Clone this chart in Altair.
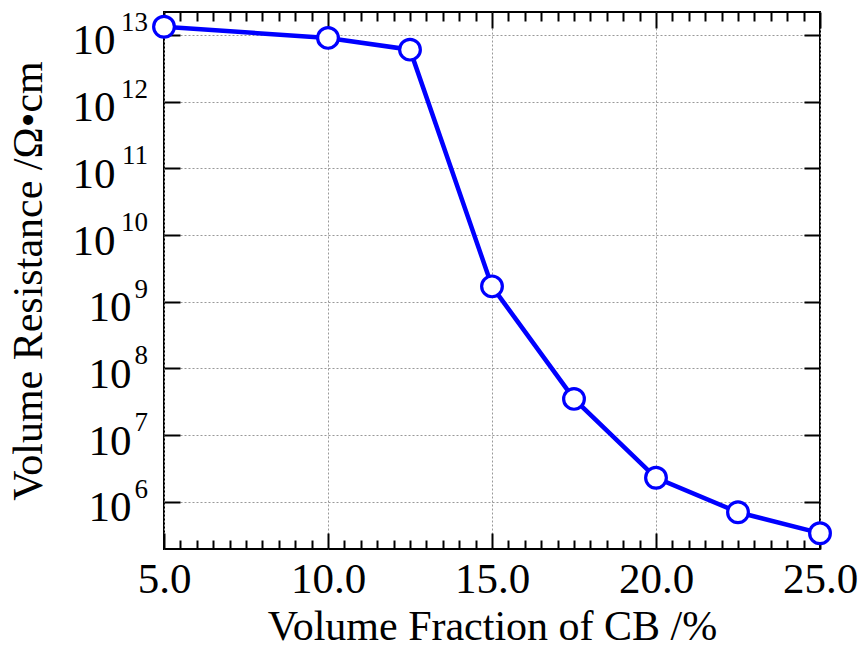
import altair as alt
import pandas as pd

# ---- data ----
cb_fraction = [5.0, 10.0, 12.5, 15.0, 17.5, 20.0, 22.5, 25.0]
resistance = [1.32e13, 9.0e12, 6.0e12, 1.7e9, 3.5e7, 2.3e6, 7.0e5, 3.4e5]

x_major = [5, 10, 15, 20, 25]
x_minor = [5 + 0.5 * i for i in range(41)]
decades = [1e6, 1e7, 1e8, 1e9, 1e10, 1e11, 1e12, 1e13]
exponents = ["6", "7", "8", "9", "10", "11", "12", "13"]

df = pd.DataFrame({"cb": cb_fraction, "res": resistance})
exp_df = pd.DataFrame({"val": decades, "exp": exponents})

W, H = 656, 537
BLUE = "#0000ff"
FONT = "Liberation Serif"

xscale = alt.Scale(domain=[5, 25], nice=False, zero=False)
yscale = alt.Scale(type="log", domain=[1.97e5, 2.2e13], nice=False)

tick_cond = {"condition": {"test": "datum.value % 5 === 0", "value": 16}, "value": 9}

# Layer A: line with label axes (bottom / left)
x_lab = alt.Axis(orient="bottom", values=x_major, format=".1f",
                 title="Volume Fraction of CB /%", ticks=False, tickSize=0,
                 domain=False, grid=True, gridColor="#999999", gridDash=[2, 2],
                 gridWidth=1, labelFont=FONT, labelFontSize=43, labelColor="black",
                 labelPadding=9, labelFlush=False, labelOverlap=False,
                 titleFont=FONT, titleFontSize=42, titleFontWeight="normal",
                 titleColor="black", titlePadding=5)
y_lab = alt.Axis(orient="left", values=decades, labelExpr="'10'",
                 title="Volume Resistance /Ω•cm", ticks=False, tickSize=0,
                 domain=False, grid=True, gridColor="#999999", gridDash=[2, 2],
                 gridWidth=1, labelFont=FONT, labelFontSize=43, labelColor="black",
                 labelBaseline="alphabetic", labelOffset=19,
                 labelPadding={"condition": {"test": "datum.value > 5e9", "value": 49},
                               "value": 33},
                 labelOverlap=False,
                 titleFont=FONT, titleFontSize=42, titleFontWeight="normal",
                 titleColor="black", titlePadding=22)

line = alt.Chart(df).mark_line(color=BLUE, strokeWidth=4.5).encode(
    x=alt.X("cb:Q", scale=xscale, axis=x_lab),
    y=alt.Y("res:Q", scale=yscale, axis=y_lab),
)

# Layer B: points, inward ticks at bottom and left
points = alt.Chart(df).mark_point(
    filled=True, fill="white", stroke=BLUE, strokeWidth=3.2, size=430, opacity=1
).encode(
    x=alt.X("cb:Q", scale=xscale,
            axis=alt.Axis(orient="top", offset=-H, values=x_minor, labels=False,
                          title=None, domain=False, grid=False, tickColor="black",
                          tickWidth=2, tickSize=tick_cond)),
    y=alt.Y("res:Q", scale=yscale,
            axis=alt.Axis(orient="right", offset=-W, values=decades, labels=False,
                          title=None, domain=False, grid=False, tickColor="black",
                          tickWidth=2, tickSize=16)),
)

# Layer C: invisible, inward ticks at top and right
ghost = alt.Chart(df).mark_line(opacity=0).encode(
    x=alt.X("cb:Q", scale=xscale,
            axis=alt.Axis(orient="bottom", offset=-H, values=x_minor, labels=False,
                          title=None, domain=False, grid=False, tickColor="black",
                          tickWidth=2, tickSize=tick_cond)),
    y=alt.Y("res:Q", scale=yscale,
            axis=alt.Axis(orient="left", offset=-W, values=decades, labels=False,
                          title=None, domain=False, grid=False, tickColor="black",
                          tickWidth=2, tickSize=16)),
)

# Layer D: exponents of the y tick labels
exps = alt.Chart(exp_df).mark_text(
    align="right", baseline="alphabetic", dy=-4, font=FONT, fontSize=27, color="black"
).encode(
    x=alt.value(-16),
    y=alt.Y("val:Q", scale=yscale, axis=None),
    text="exp:N",
)

chart = alt.layer(line, points, ghost, exps).resolve_axis(
    x="independent", y="independent"
).properties(
    width=W, height=H,
    autosize=alt.AutoSizeParams(type="none"),
    padding={"left": 164, "top": 12, "right": 44, "bottom": 101},
    background="white",
).configure_view(stroke="black", strokeWidth=2)

chart.save("out.html", embed_options={"renderer": "svg", "actions": False})
